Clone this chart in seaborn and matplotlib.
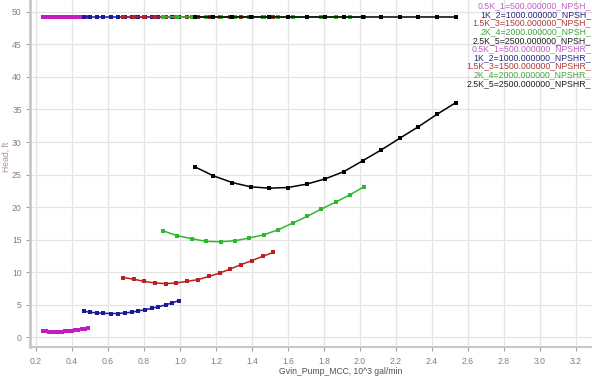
import matplotlib
matplotlib.use("Agg")
import matplotlib.pyplot as plt
import seaborn as sns
import pandas as pd

# ---------------- data ----------------
speeds = ["0.5K_1=500.000000", "1K_2=1000.000000", "1.5K_3=1500.000000",
          "2K_4=2000.000000", "2.5K_5=2500.000000"]

x_05k = [0.237, 0.255, 0.273, 0.291, 0.309, 0.327, 0.345, 0.363, 0.381, 0.399,
         0.417, 0.435, 0.453, 0.471, 0.489]
x_1k = [0.468, 0.500, 0.537, 0.574, 0.617, 0.654, 0.694, 0.732, 0.768, 0.806,
        0.843, 0.879, 0.920, 0.957, 0.994]
x_15k = [0.683, 0.742, 0.802, 0.861, 0.922, 0.980, 1.040, 1.100, 1.163, 1.222,
         1.280, 1.339, 1.398, 1.459, 1.518]
x_2k = [0.904, 0.985, 1.065, 1.144, 1.226, 1.306, 1.385, 1.467, 1.546, 1.626,
        1.706, 1.785, 1.865, 1.944, 2.024]
x_25k = [1.083, 1.186, 1.290, 1.393, 1.497, 1.600, 1.704, 1.807, 1.911, 2.014,
         2.118, 2.221, 2.325, 2.428, 2.532]

npshr_05k = [1.05, 0.97, 0.91, 0.88, 0.87, 0.88, 0.91, 0.95, 1.00, 1.06,
             1.13, 1.20, 1.28, 1.37, 1.46]
npshr_1k = [4.03, 3.87, 3.78, 3.72, 3.68, 3.68, 3.78, 3.87, 4.09, 4.24,
            4.49, 4.70, 5.00, 5.31, 5.67]
npshr_15k = [9.20, 8.95, 8.60, 8.37, 8.27, 8.37, 8.62, 8.88, 9.39, 9.90,
             10.52, 11.18, 11.79, 12.45, 13.06]
npshr_2k = [16.39, 15.62, 15.16, 14.75, 14.70, 14.85, 15.27, 15.77, 16.54, 17.56,
            18.58, 19.71, 20.78, 21.90, 23.17]
npshr_25k = [26.19, 24.81, 23.78, 23.12, 22.92, 23.02, 23.54, 24.35, 25.47, 27.11,
             28.79, 30.58, 32.36, 34.26, 36.04]

npsh_05k = [49.2, 49.2, 49.2, 49.2, 49.2, 49.2, 49.2, 49.2, 49.2, 49.2, 49.2, 49.2, 49.2, 49.2, 49.2]
npsh_1k = [49.2, 49.2, 49.2, 49.2, 49.2, 49.2, 49.2, 49.2, 49.2, 49.2, 49.2, 49.2, 49.2, 49.2, 49.2]
npsh_15k = [49.2, 49.2, 49.2, 49.2, 49.2, 49.2, 49.2, 49.2, 49.2, 49.2, 49.2, 49.2, 49.2, 49.2, 49.2]
npsh_2k = [49.2, 49.2, 49.2, 49.2, 49.2, 49.2, 49.2, 49.2, 49.2, 49.2, 49.2, 49.2, 49.2, 49.2, 49.2]
npsh_25k = [49.2, 49.2, 49.2, 49.2, 49.2, 49.2, 49.2, 49.2, 49.2, 49.2, 49.2, 49.2, 49.2, 49.2, 49.2]

x_ticks = [0.2, 0.4, 0.6, 0.8, 1.0, 1.2, 1.4, 1.6, 1.8, 2.0, 2.2, 2.4, 2.6, 2.8, 3.0, 3.2]
y_ticks = [0, 5, 10, 15, 20, 25, 30, 35, 40, 45, 50]

line_colors = ["#c21cc2", "#1a1a9a", "#b82222", "#2eb82e", "#000000"]
text_colors = ["#c060c8", "#2a2a80", "#b03a3a", "#40a840", "#202020"]

xs = [x_05k, x_1k, x_15k, x_2k, x_25k]
npsh = [npsh_05k, npsh_1k, npsh_15k, npsh_2k, npsh_25k]
npshr = [npshr_05k, npshr_1k, npshr_15k, npshr_2k, npshr_25k]

# ---------------- figure ----------------
sns.set_theme(style="whitegrid")
plt.rcParams["font.family"] = ["Liberation Sans", "DejaVu Sans"]

fig = plt.figure(figsize=(5.92, 3.78), dpi=100)
ax = fig.add_axes([30 / 592, 31 / 378, 562 / 592, 347 / 378])

def draw(x, y, color):
    df = pd.DataFrame({"x": x, "y": y})
    sns.lineplot(data=df, x="x", y="y", ax=ax, color=color, marker="s",
                 markersize=3.0, markeredgewidth=0, linewidth=1.1,
                 sort=False, legend=False)

for x, y, c in zip(xs, npsh, line_colors):
    draw(x, y, c)
for x, y, c in zip(xs, npshr, line_colors):
    draw(x, y, c)

ax.set_xlim(0.1667, 3.289)
ax.set_ylim(-1.46, 51.8)
ax.set_xticks(x_ticks)
ax.set_xticklabels([f"{v:.1f}" for v in x_ticks])
ax.set_yticks(y_ticks)
ax.set_yticklabels([str(v) for v in y_ticks])

ax.grid(True, color="#e4e4e4", linewidth=0.9)
ax.set_facecolor("white")
for s in ["top", "right"]:
    ax.spines[s].set_visible(False)
ax.spines["left"].set_color("#c8c8c8")
ax.spines["left"].set_linewidth(2.0)
ax.spines["bottom"].set_color("#c8c8c8")
ax.spines["bottom"].set_linewidth(1.5)

ax.tick_params(axis="both", which="both", length=3, width=0.8, color="#a0a0a0",
               labelsize=6.2, labelcolor="#808080", direction="out",
               bottom=True, left=True)
ax.tick_params(axis="x", pad=4)
ax.tick_params(axis="y", pad=3)

ax.set_xlabel("Gvin_Pump_MCC, 10^3 gal/min", fontsize=6.2, color="#505050")
ax.xaxis.set_label_coords((341 - 30) / 562, -20 / 347)
ax.set_ylabel("Head, ft", fontsize=6.2, color="#b09090")
ax.yaxis.set_label_coords(-19 / 562, (347 - 157) / 347)

# legend (text-only, coloured, right aligned)
labels = [f"{s}_NPSH_" for s in speeds] + [f"{s}_NPSHR_" for s in speeds]
lcolors = text_colors + text_colors
for i, (lab, col) in enumerate(zip(labels, lcolors)):
    fig.text(591 / 592, 1 - (6 + 8.6 * i) / 378, lab, ha="right", va="center",
             fontsize=6.3, color=col)

fig.savefig("out.png", dpi=100)
